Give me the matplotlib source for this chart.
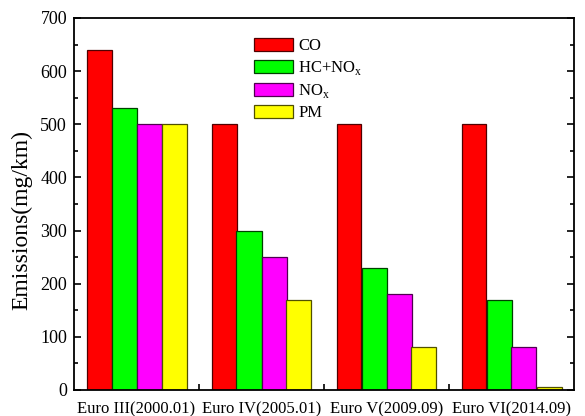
import matplotlib

matplotlib.use("Agg")

import matplotlib.pyplot as plt
import numpy as np

plt.rcParams["font.family"] = ["Liberation Serif", "DejaVu Serif"]
plt.rcParams["mathtext.fontset"] = "custom"
plt.rcParams["mathtext.rm"] = "Liberation Serif"

standards = ["Euro III(2000.01)", "Euro IV(2005.01)", "Euro V(2009.09)", "Euro VI(2014.09)"]
pollutants = ["CO", "HC+NO$_\\mathrm{x}$", "NO$_\\mathrm{x}$", "PM"]
co = [640, 500, 500, 500]
hc_nox = [530, 300, 230, 170]
nox = [500, 250, 180, 80]
pm = [500, 170, 80, 5]
colors = ["#ff0000", "#00ff00", "#ff00ff", "#ffff00"]
edges = ["#500000", "#004000", "#500050", "#505000"]

fig = plt.figure(figsize=(5.85, 4.16), dpi=100)
ax = fig.add_axes([74 / 585, 26 / 416, 500 / 585, 372 / 416])

x = np.arange(1, len(standards) + 1)
width = 0.2
for i, (values, name) in enumerate(zip((co, hc_nox, nox, pm), pollutants)):
    ax.bar(x + (i - 1.5) * width, values, width, color=colors[i],
           edgecolor=edges[i], linewidth=0.9, label=name)

ax.set_xlim(0.5, 4.5)
ax.set_ylim(0, 700)
ax.set_xticks(x)
ax.set_xticklabels(standards, fontsize=12)
ax.set_xticks([1.5, 2.5, 3.5], minor=True)
ax.tick_params(axis="x", which="major", length=0, pad=8)
ax.tick_params(axis="x", which="minor", direction="in", length=4, width=1.2)
ax.set_yticks(range(0, 701, 100))
ax.set_yticks(range(50, 700, 100), minor=True)
ax.tick_params(axis="y", which="both", direction="in", width=1.2, labelsize=13, right=True)
ax.tick_params(axis="y", which="major", length=5, pad=5)
ax.tick_params(axis="y", which="minor", length=3)
for spine in ax.spines.values():
    spine.set_linewidth(1.3)
ax.set_ylabel("Emissions(mg/km)", fontsize=17)
ax.yaxis.set_label_coords(-0.084, 0.458)

ax.legend(loc="upper left", bbox_to_anchor=(0.36, 0.946), frameon=False, fontsize=12,
          borderpad=0, borderaxespad=0, handlelength=2.35, handleheight=0.8,
          labelspacing=0.3, handletextpad=0.3)

fig.savefig("out.png", dpi=100)
